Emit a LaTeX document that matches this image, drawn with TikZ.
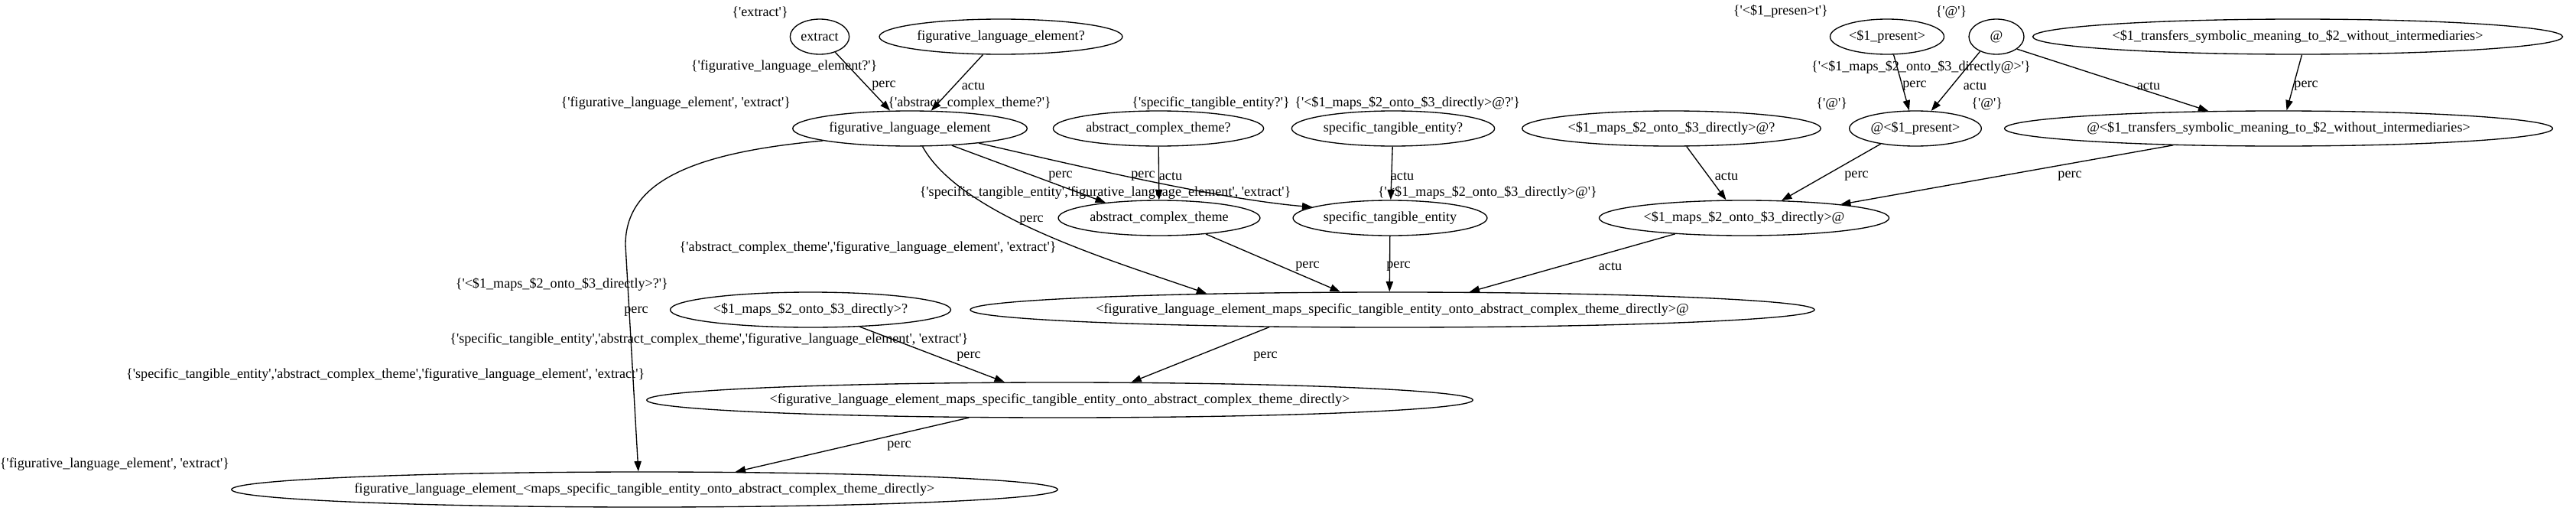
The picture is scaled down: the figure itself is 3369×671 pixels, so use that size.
\documentclass[tikz,border=0pt]{standalone}
\usepackage{fontspec}
\setmainfont{Liberation Serif}
\usetikzlibrary{shapes.geometric,arrows.meta}

\newcommand{\sq}{\textquotesingle}
\newcommand{\gvfont}{\fontsize{13.6pt}{16pt}\selectfont}

\tikzset{every picture/.style={line width=1pt}}
\tikzset{
  gvnode/.style={draw, ellipse, minimum height=34.5pt, minimum width=54pt, inner xsep=2pt, inner ysep=2pt},
  xlbl/.style={inner xsep=1pt, inner ysep=0pt, anchor=south east},
  xlblb/.style={inner xsep=1pt, inner ysep=5pt, anchor=north east},
  elbl/.style={inner sep=0pt},
  gvedge/.style={-{Triangle[length=10pt,width=7pt]}}
}

\begin{document}
\begin{tikzpicture}[x=0.75pt,y=0.75pt,yscale=-1,every node/.append style={font=\gvfont}]
\useasboundingbox (0,0) rectangle (3369,671);

%Ellipses, rank 0
\node[gvnode] (extract) at (1072,48) {extract};
\node[gvnode] (fleq) at (1309,48) {figurative\_language\_element?};
\node[gvnode] (present) at (2468,48) {<\$1\_present>};
\node[gvnode] (atsign) at (2611,48) {@};
\node[gvnode] (transfers) at (3005,48) {<\$1\_transfers\_symbolic\_meaning\_to\_\$2\_without\_intermediaries>};
%Ellipses, rank 1
\node[gvnode] (fle) at (1190,168) {figurative\_language\_element};
\node[gvnode] (actq) at (1515,168) {abstract\_complex\_theme?};
\node[gvnode] (steq) at (1822,168) {specific\_tangible\_entity?};
\node[gvnode] (mapsatq) at (2186,168) {<\$1\_maps\_\$2\_onto\_\$3\_directly>@?};
\node[gvnode] (atpresent) at (2505,168) {@<\$1\_present>};
\node[gvnode] (attransfers) at (2980,168) {@<\$1\_transfers\_symbolic\_meaning\_to\_\$2\_without\_intermediaries>};
%Ellipses, rank 2
\node[gvnode] (act) at (1516,285) {abstract\_complex\_theme};
\node[gvnode] (ste) at (1818,285) {specific\_tangible\_entity};
\node[gvnode] (mapsat) at (2281,285) {<\$1\_maps\_\$2\_onto\_\$3\_directly>@};
%Ellipses, rank 3
\node[gvnode] (mapsq) at (1060,405) {<\$1\_maps\_\$2\_onto\_\$3\_directly>?};
\node[gvnode] (fleat) at (1821,405) {<figurative\_language\_element\_maps\_specific\_tangible\_entity\_onto\_abstract\_complex\_theme\_directly>@};
%Ellipses, rank 4 and 5
\node[gvnode] (fled) at (1386,523) {<figurative\_language\_element\_maps\_specific\_tangible\_entity\_onto\_abstract\_complex\_theme\_directly>};
\node[gvnode] (bottom) at (843,640) {figurative\_language\_element\_<maps\_specific\_tangible\_entity\_onto\_abstract\_complex\_theme\_directly>};

% Text Node (sets beside the ellipses)
\node[xlbl] (x_extract) at (extract.west |- extract.north) {\{\sq extract\sq\}};
\node[xlblb] (x_fleq) at (fleq.west |- fleq.south) {\{\sq figurative\_language\_element?\sq\}};
\node[xlbl] (x_present) at (present.west |- present.north) {\{\sq<\$1\_presen>t\sq\}};
\node[xlbl] (x_atsign) at (atsign.west |- atsign.north) {\{\sq @\sq\}};
\node[xlblb] (x_transfers) at (transfers.west |- transfers.south) {\{\sq<\$1\_maps\_\$2\_onto\_\$3\_directly@>\sq\}};
\node[xlbl] (x_fle) at (fle.west |- fle.north) {\{\sq figurative\_language\_element\sq, \sq extract\sq\}};
\node[xlbl] (x_actq) at (actq.west |- actq.north) {\{\sq abstract\_complex\_theme?\sq\}};
\node[xlbl] (x_steq) at (steq.west |- steq.north) {\{\sq specific\_tangible\_entity?\sq\}};
\node[xlbl] (x_mapsatq) at (mapsatq.west |- mapsatq.north) {\{\sq<\$1\_maps\_\$2\_onto\_\$3\_directly>@?\sq\}};
\node[xlbl] (x_atpresent) at (atpresent.west |- atpresent.north) {\{\sq @\sq\}};
\node[xlbl] (x_attransfers) at (attransfers.west |- attransfers.north) {\{\sq @\sq\}};
\node[xlblb] (x_act) at (act.west |- act.south) {\{\sq abstract\_complex\_theme\sq,\sq figurative\_language\_element\sq, \sq extract\sq\}};
\node[xlbl] (x_ste) at (ste.west |- ste.north) {\{\sq specific\_tangible\_entity\sq,\sq figurative\_language\_element\sq, \sq extract\sq\}};
\node[xlbl] (x_mapsat) at (mapsat.west |- mapsat.north) {\{\sq<\$1\_maps\_\$2\_onto\_\$3\_directly>@\sq\}};
\node[xlbl] (x_mapsq) at (mapsq.west |- mapsq.north) {\{\sq<\$1\_maps\_\$2\_onto\_\$3\_directly>?\sq\}};
\node[xlblb] (x_fleat) at (fleat.west |- fleat.south) {\{\sq specific\_tangible\_entity\sq,\sq abstract\_complex\_theme\sq,\sq figurative\_language\_element\sq, \sq extract\sq\}};
\node[xlbl] (x_fled) at (fled.west |- fled.north) {\{\sq specific\_tangible\_entity\sq,\sq abstract\_complex\_theme\sq,\sq figurative\_language\_element\sq, \sq extract\sq\}};
\node[xlbl] (x_bottom) at (bottom.west |- bottom.north) {\{\sq figurative\_language\_element\sq, \sq extract\sq\}};

%Straight Lines and curves
\draw[gvedge] (extract.-45) -- (fle.138.5);
\draw[gvedge] (fleq.-135) -- (fle.40.4);
\draw[gvedge] (fle.-22.3) -- (act.164.7);
\draw[gvedge] (fle.-12.4) .. controls +(130,30) and +(-120,-10) .. (ste.172.8);
\draw[gvedge] (actq) -- (act);
\draw[gvedge] (steq) -- (ste);
\draw[gvedge] (fle.-55) .. controls +(50,90) and +(-130,-45) .. (fleat.175.5);
\coordinate (bend) at (818,320);
\draw[gvedge] (fle.188) .. controls (900,200) and (818,240) .. (bend) -- (bottom.109);
\draw[gvedge] (act.-19.8) -- (fleat.161.2);
\draw[gvedge] (ste) -- (fleat.99.9);
\draw[gvedge] (mapsat.193.5) -- (fleat.13.6);
\draw[gvedge] (mapsatq.-50.4) -- (mapsat.135);
\draw[gvedge] (atpresent.204.9) -- (mapsat.25.4);
\draw[gvedge] (attransfers.189.7) -- (mapsat.8.1);
\draw[gvedge] (present.-70.8) -- (atpresent.109);
\draw[gvedge] (atsign.222.4) -- (atpresent.48.4);
\draw[gvedge] (atsign.-31) -- (attransfers.166.8);
\draw[gvedge] (transfers.-77.7) -- (attransfers.66.4);
\draw[gvedge] (fleat.188) -- (fled.14.3);
\draw[gvedge] (mapsq.-19.3) -- (fled.162.2);
\draw[gvedge] (fled.191.4) -- (bottom.11);

% Text Node (edge labels)
\node[elbl] (l_extract) at (1156,112) {perc};
\node[elbl] (l_fleq) at (1273,112) {actu};
\node[elbl] (l_fle_act) at (1387,230) {perc};
\node[elbl] (l_fle_ste) at (1495,230) {perc};
\node[elbl] (l_actq) at (1531,230) {actu};
\node[elbl] (l_steq) at (1834,230) {actu};
\node[elbl] (l_mapsatq) at (2258,230) {actu};
\node[elbl] (l_atpresent) at (2428,230) {perc};
\node[elbl] (l_attransfers) at (2707,230) {perc};
\node[elbl] (l_present) at (2504,112) {perc};
\node[elbl] (l_atsign_p) at (2583,112) {actu};
\node[elbl] (l_atsign_t) at (2810,112) {actu};
\node[elbl] (l_transfers) at (3016,112) {perc};
\node[elbl] (l_fle_fleat) at (1349,288) {perc};
\node[elbl] (l_fle_bottom) at (832,407) {perc};
\node[elbl] (l_act) at (1710,348) {perc};
\node[elbl] (l_ste) at (1829,348) {perc};
\node[elbl] (l_mapsat) at (2106,348) {actu};
\node[elbl] (l_mapsq) at (1267,466) {perc};
\node[elbl] (l_fleat) at (1655,466) {perc};
\node[elbl] (l_fled) at (1176,583) {perc};

\end{tikzpicture}
\end{document}
